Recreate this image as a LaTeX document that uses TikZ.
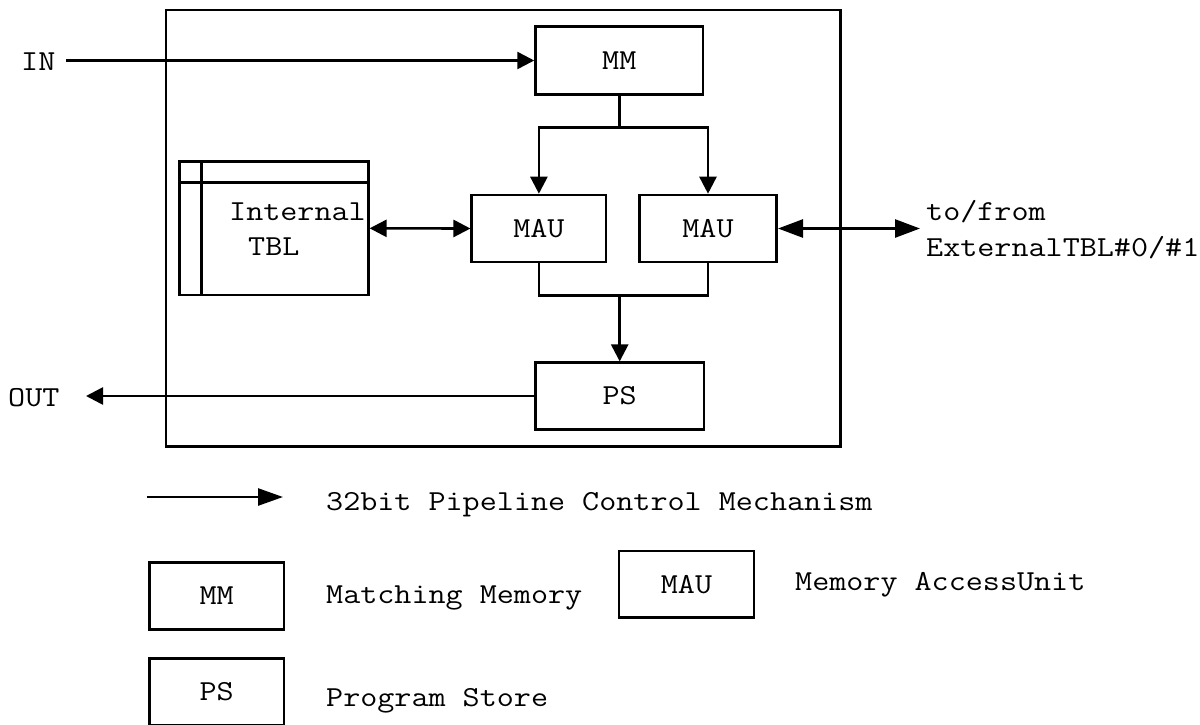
\documentclass[tikz,border=0pt]{standalone}
\usepackage{fontspec}
\newfontfamily\mono[FakeStretch=1.143]{Latin Modern Mono}
\usetikzlibrary{arrows.meta}

\tikzset{
  wire/.style={line width=2.6pt, line cap=rect},
  flow/.style={wire, -{Triangle[length=17pt,width=17pt]}},
  both/.style={wire, {Triangle[length=17pt,width=17pt]}-{Triangle[length=17pt,width=17pt]}},
  bothbig/.style={wire, {Triangle[length=25pt,width=18pt]}-{Triangle[length=25pt,width=18pt]}},
  keyflow/.style={wire, -{Triangle[length=25pt,width=17pt]}},
  unitbox/.style={draw, line width=2.6pt, inner sep=0pt, font=\mono\fontsize{29}{34}\selectfont},
  txt/.style={inner sep=0pt, anchor=base west, font=\mono\fontsize{29}{34}\selectfont}
}

\begin{document}
\begin{tikzpicture}[x=1pt, y=-1pt]
\useasboundingbox (0,0) rectangle (1200,724);

% processor outline
\node[unitbox, minimum width=674.7pt, minimum height=436.7pt] (chip) at (503.35,228.35) {};

% functional units
\node[unitbox, minimum width=167.5pt, minimum height=67.6pt] (mm) at (619.3,60.5) {MM};
\node[unitbox, minimum width=134.3pt, minimum height=67pt] (mauA) at (538.9,228.5) {MAU};
\node[unitbox, minimum width=137.4pt, minimum height=67pt] (mauB) at (708,228.5) {MAU};
\node[unitbox, minimum width=168.7pt, minimum height=66.6pt] (ps) at (619.7,396) {PS};

% internal table with header row and side column
\node[unitbox, minimum width=189pt, minimum height=133.3pt] (tbl) at (273.8,228.3) {};
\draw[wire, line cap=butt] (tbl.north west |- 0,182.7) -- (tbl.north east |- 0,182.7);
\draw[wire, line cap=butt] (201.3,0 |- tbl.north) -- (201.3,0 |- tbl.south);
\node[txt] (tblA) at (229,220) {Internal};
\node[txt] (tblB) at (248,255) {TBL};

% external labels
\node[txt] (in) at (21,70) {IN};
\node[txt] (out) at (8,406.7) {OUT};
\node[txt] (extA) at (926,220) {to/from};
\node[txt] (extB) at (926,256) {ExternalTBL\#0/\#1};

% connectors
\coordinate (inEnd) at (67,60.5);
\coordinate (outEnd) at (86,396);
\coordinate (extEnd) at (920,228.5);
\coordinate (fork) at (619.3,127.7);
\coordinate (merge) at (619.7,295.7);

\draw[flow] (inEnd) -- (mm.west);
\draw[wire] (mm.south) -- (fork);
\draw[flow] (mauA.north |- fork) -- (mauB.north |- fork) -- (mauB.north);
\draw[flow] (mauA.north |- fork) -- (mauA.north);
\draw[wire] (mauA.south) -- (mauA.south |- merge) -- (mauB.south |- merge) -- (mauB.south);
\draw[flow] (merge) -- (ps.north);
\draw[both] (tbl.east) -- (mauA.west);
\draw[bothbig] (mauB.east) -- (extEnd);
\draw[flow] (ps.west) -- (outEnd);

% legend
\coordinate (keyA) at (148,497);
\coordinate (keyB) at (283,497);
\draw[keyflow] (keyA) -- (keyB);
\node[txt] (keyflowtxt) at (326,510) {32bit Pipeline Control Mechanism};

\node[unitbox, minimum width=134.7pt, minimum height=66.6pt] (keymm) at (216.7,596) {MM};
\node[txt] (keymmtxt) at (326,603.3) {Matching Memory};
\node[unitbox, minimum width=135pt, minimum height=66.7pt] (keymau) at (686.5,584.3) {MAU};
\node[txt] (keymautxt) at (795,590) {Memory AccessUnit};
\node[unitbox, minimum width=134.7pt, minimum height=66.6pt] (keyps) at (216.7,691.6) {PS};
\node[txt] (keypstxt) at (326,706.7) {Program Store};
\end{tikzpicture}
\end{document}
